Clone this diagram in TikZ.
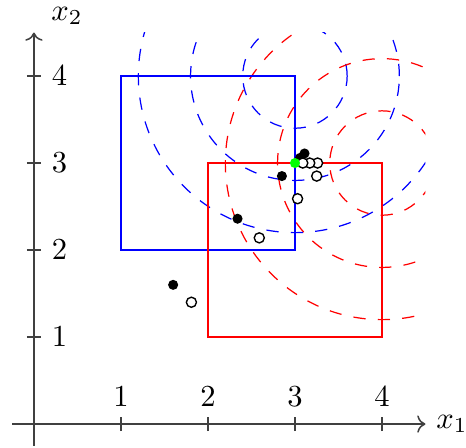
\documentclass[tikz,border=0pt]{standalone}
\usepackage{amsmath}
\usetikzlibrary{arrows.meta, positioning, calc}

\begin{document}
\begin{tikzpicture}[
  every node/.style={font=\normalsize},
  axis/.style={->, black!75, line width=0.5pt},
  tick/.style={black!75, line width=0.5pt},
  setA/.style={draw=blue, line width=0.8pt},
  setB/.style={draw=red, line width=0.8pt},
  levelA/.style={draw=blue, dash pattern=on 4pt off 4pt, line width=0.4pt},
  levelB/.style={draw=red, dash pattern=on 4pt off 4pt, line width=0.4pt},
  iterA/.style={circle, fill=black, inner sep=0pt, minimum size=3.3pt},
  iterB/.style={circle, draw=black, fill=white, inner sep=0pt, minimum size=3.3pt, line width=0.45pt},
  sol/.style={circle, fill=green, inner sep=0pt, minimum size=3.3pt}
]
  \useasboundingbox (-0.39,-0.264) rectangle (4.966,4.874);

  % Curve di livello
  \begin{scope}
    \clip (-0.25,-0.25) rectangle (4.5,4.5);
    \coordinate (cA) at (3,4);
    \coordinate (cB) at (4,3);
    \foreach \r in {0.6,1.2,1.8} {
      \draw[levelA] (cA) circle (\r);
      \draw[levelB] (cB) circle (\r);
    }
  \end{scope}

  % Insiemi
  \draw[setA] (1,2) rectangle (3,4);
  \draw[setB] (2,1) rectangle (4,3);

  % Assi
  \coordinate (xs) at (-0.25,0);
  \coordinate (xe) at (4.5,0);
  \coordinate (ys) at (0,-0.25);
  \coordinate (ye) at (0,4.5);
  \draw[axis] (xs) -- (xe) node[right, black] (xlab) {$x_1$};
  \draw[axis] (ys) -- (ye);
  \node (ylab) at (0.38,4.69) {$x_2$};
  \foreach \t in {1,2,3,4} {
    \draw[tick] (\t,-0.08) -- (\t,0.08) node[above, black] (xt\t) {$\t$};
    \draw[tick] (-0.08,\t) -- (0.08,\t) node[right, black] (yt\t) {$\t$};
  }

  % Iterate
  \foreach \p [count=\i] in {(1.6,1.6), (2.34,2.36), (2.85,2.85), (3.06,3.06), (3.11,3.11)}
    \node[iterA] (a\i) at \p {};
  \foreach \p [count=\i] in {(1.81,1.4), (2.59,2.14), (3.03,2.59), (3.25,2.85), (3.26,3), (3.17,3), (3.09,3)}
    \node[iterB] (b\i) at \p {};

  % Soluzione
  \node[sol] (xstar) at (3,3) {};

\end{tikzpicture}
\end{document}
